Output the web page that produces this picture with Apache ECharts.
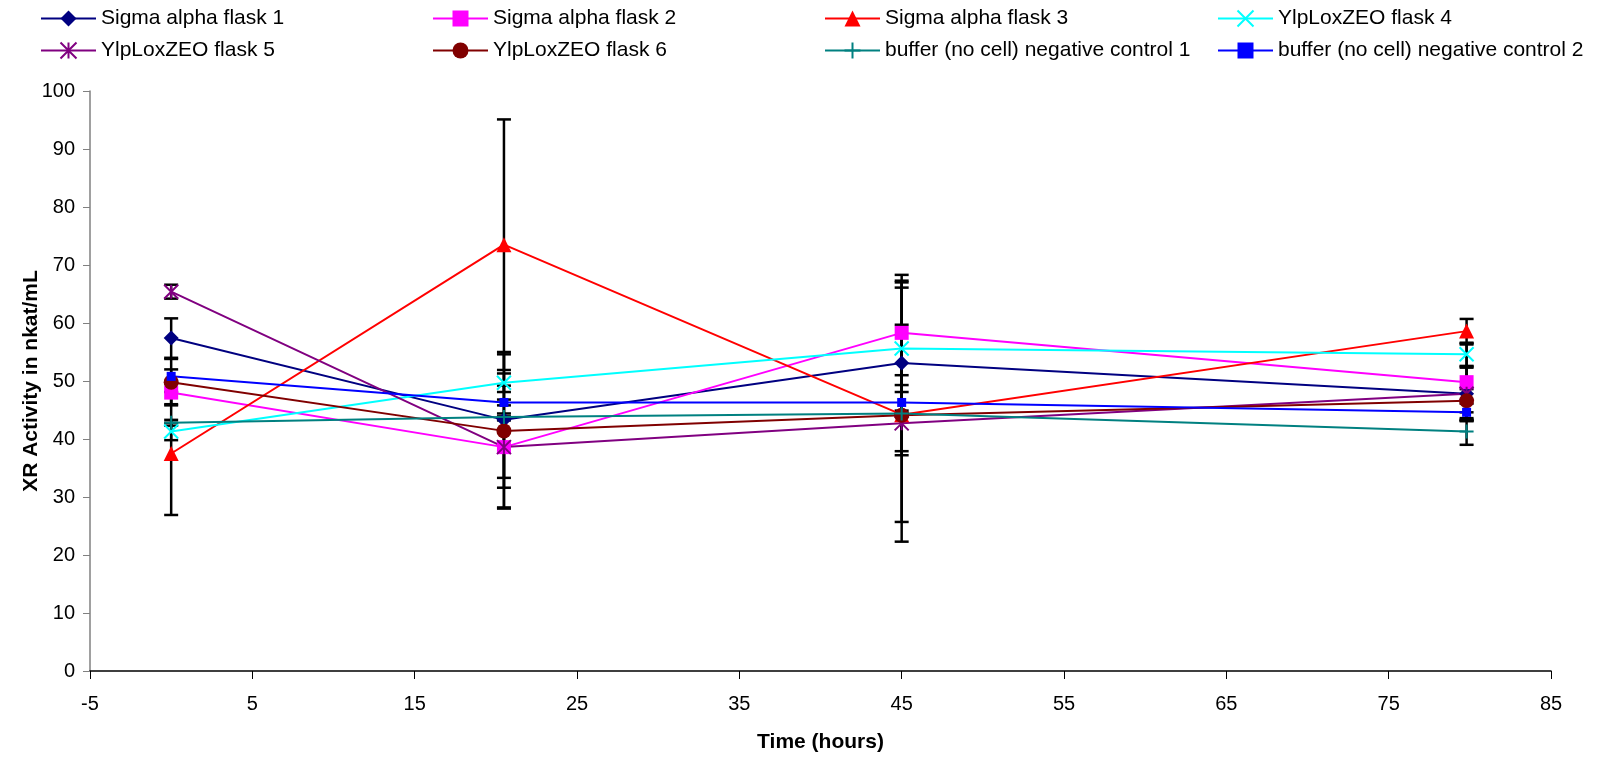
<!DOCTYPE html>
<html>
<head>
<meta charset="utf-8">
<script src="https://cdn.jsdelivr.net/npm/echarts@6/dist/echarts.min.js"></script>
<style>
    html, body { margin: 0; padding: 0; background: #fff; }
    #chart { width: 1610px; height: 761px; }
</style>
</head>
<body>
<div id="chart"></div>
<script>
    // sampling times (hours)
    const times = [0, 20.5, 45, 79.8];

    // XR activity means and error bar half-widths per series
    const flask1 = [57.4, 43.3, 53.1, 47.8];
    const flask1Err = [3.4, 11.7, 15.2, 4.7];
    const flask2 = [48.0, 38.6, 58.3, 49.8];
    const flask2Err = [2.0, 10.6, 9.0, 6.5];
    const flask3 = [37.5, 73.5, 44.2, 58.6];
    const flask3Err = [10.6, 21.6, 21.9, 2.1];
    const flask4 = [41.3, 49.7, 55.6, 54.6];
    const flask4Err = [1.5, 1.6, 11.4, 2.0];
    const flask5 = [65.4, 38.6, 42.7, 47.8];
    const flask5Err = [1.2, 5.3, 17.0, 4.5];
    const flask6 = [49.8, 41.4, 44.1, 46.6];
    const flask6Err = [4.0, 13.2, 6.9, 2.0];
    const buffer1 = [42.8, 43.8, 44.4, 41.3];
    const buffer1Err = [0.5, 0.6, 0.5, 2.3];
    const buffer2 = [50.8, 46.3, 46.3, 44.6];
    const buffer2Err = [1.2, 0.5, 1.8, 1.5];

    const xTicks = [-5, 5, 15, 25, 35, 45, 55, 65, 75, 85];

    const names = ['Sigma alpha flask 1', 'Sigma alpha flask 2', 'Sigma alpha flask 3', 'YlpLoxZEO flask 4',
        'YlpLoxZEO flask 5', 'YlpLoxZEO flask 6', 'buffer (no cell) negative control 1', 'buffer (no cell) negative control 2'];
    const values = [flask1, flask2, flask3, flask4, flask5, flask6, buffer1, buffer2];
    const errors = [flask1Err, flask2Err, flask3Err, flask4Err, flask5Err, flask6Err, buffer1Err, buffer2Err];
    const colors = ['#000080', '#ff00ff', '#ff0000', '#00ffff', '#800080', '#800000', '#008080', '#0000ff'];
    const symbols = ['diamond', 'rect', 'triangle',
        'path://M0,0L10,10M10,0L0,10',
        'path://M0,0L10,10M10,0L0,10M5,0L5,10',
        'circle',
        'path://M5,0L5,10M0,5L10,5',
        'rect'];
    const sizes = [15, 14, 15, 14, 14, 15, 14, 9];

    const font = "'Liberation Sans', Arial, sans-serif";
    let myChart = echarts.init(document.getElementById('chart'));

    let series = [];

    // error bars (drawn under the lines)
    let barData = [];
    values.forEach((vals, s)=> {
        vals.forEach((v, i)=> {
            barData.push([times[i], v - errors[s][i], v + errors[s][i]]);
        });
    });
    series.push({
        type: 'custom',
        name: 'errors',
        z: 1,
        silent: true,
        encode: {x: 0, y: [1, 2]},
        data: barData,
        renderItem: function (params, api) {
            let lo = api.coord([api.value(0), api.value(1)]);
            let hi = api.coord([api.value(0), api.value(2)]);
            let style = {stroke: '#000', lineWidth: 2.5};
            return {
                type: 'group',
                children: [
                    {type: 'line', shape: {x1: lo[0], y1: lo[1], x2: hi[0], y2: hi[1]}, style: style},
                    {type: 'line', shape: {x1: lo[0] - 7, y1: lo[1], x2: lo[0] + 7, y2: lo[1]}, style: style},
                    {type: 'line', shape: {x1: hi[0] - 7, y1: hi[1], x2: hi[0] + 7, y2: hi[1]}, style: style}
                ]
            };
        }
    });

    names.forEach((name, s)=> {
        let isPath = symbols[s].indexOf('path://') === 0;
        series.push({
            name: name,
            type: 'line',
            z: 2,
            data: values[s].map((v, i)=> [times[i], v]),
            symbol: symbols[s],
            symbolSize: sizes[s],
            showAllSymbol: true,
            lineStyle: {color: colors[s], width: 2},
            itemStyle: {
                color: colors[s],
                borderColor: colors[s],
                borderWidth: isPath ? 2 : 0
            },
            emphasis: {disabled: true}
        });
    });

    // legend laid out in 4 columns of 2 rows
    const legendCols = [35, 427, 819, 1212];
    let legends = legendCols.map((left, c)=> ({
        orient: 'vertical',
        left: left,
        top: 3,
        itemWidth: 55,
        itemHeight: 20,
        itemGap: 11,
        textStyle: {fontFamily: font, fontSize: 21, color: '#000'},
        data: [names[c], names[c + 4]]
    }));

    let option = {
        animation: false,
        backgroundColor: '#fff',
        legend: legends,
        grid: {left: 90, right: 59, top: 91, bottom: 90, containLabel: false},
        xAxis: {
            type: 'value',
            min: -5,
            max: 85,
            interval: 10,
            name: 'Time (hours)',
            nameLocation: 'middle',
            nameGap: 61,
            nameMoveOverlap: false,
            nameTextStyle: {fontFamily: font, fontSize: 21, fontWeight: 'bold', color: '#000'},
            axisLine: {onZero: false, lineStyle: {color: '#000', width: 1.5}},
            axisTick: {length: 8, lineStyle: {color: '#000'}},
            splitLine: {show: false},
            axisLabel: {
                fontFamily: font, fontSize: 20, color: '#000', margin: 23,
                formatter: (v)=> xTicks.indexOf(v) >= 0 ? String(v) : ''
            }
        },
        yAxis: {
            type: 'value',
            min: 0,
            max: 100,
            interval: 10,
            name: 'XR Activity in nkat/mL',
            nameLocation: 'middle',
            nameGap: 48,
            nameMoveOverlap: false,
            nameRotate: 90,
            nameTextStyle: {fontFamily: font, fontSize: 21, fontWeight: 'bold', color: '#000'},
            axisLine: {show: true, onZero: false, lineStyle: {color: '#808080', width: 1.5}},
            axisTick: {show: true, length: 7, lineStyle: {color: '#808080'}},
            splitLine: {show: false},
            axisLabel: {fontFamily: font, fontSize: 20, color: '#000', margin: 15}
        },
        series: series
    };

    myChart.setOption(option);
</script>
</body>
</html>
